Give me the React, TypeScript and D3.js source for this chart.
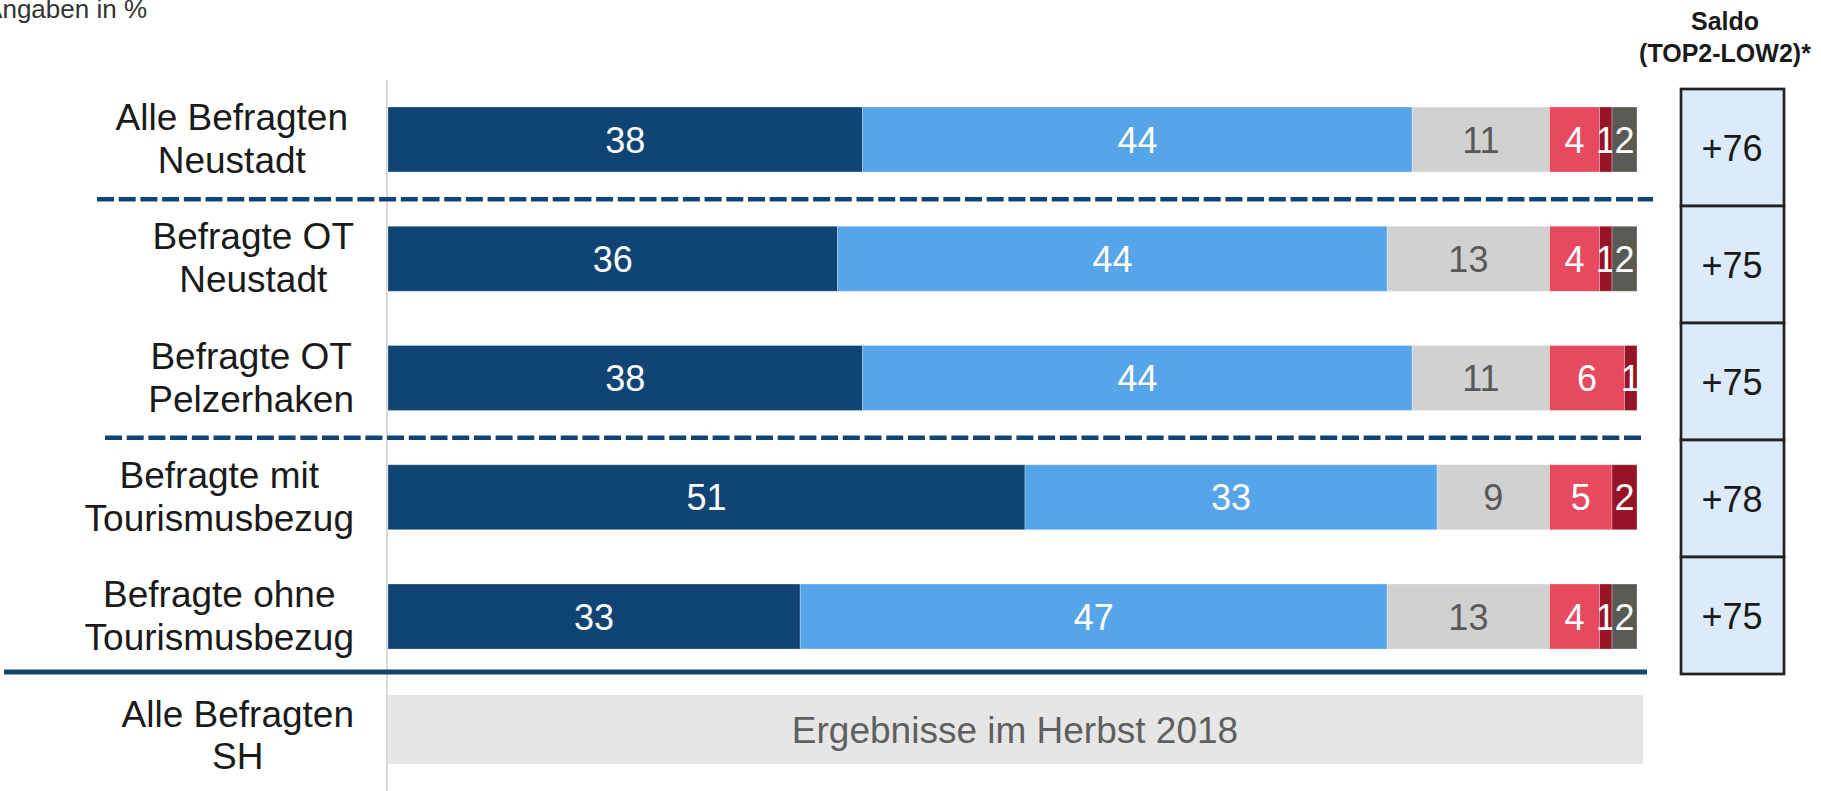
import React, { useMemo } from "react";
import * as d3 from "d3";

const categories = [
  "Alle Befragten|Neustadt",
  "Befragte OT|Neustadt",
  "Befragte OT|Pelzerhaken",
  "Befragte mit|Tourismusbezug",
  "Befragte ohne|Tourismusbezug",
];
const seriesNames = ["sehr gut", "gut", "teils/teils", "weniger gut", "gar nicht gut", "weiß nicht"];
const seriesColors = ["#104475", "#57a5e9", "#d1d1d1", "#e64a5e", "#951526", "#5a5a55"];
const seriesTextColors = ["#ffffff", "#ffffff", "#595959", "#ffffff", "#ffffff", "#ffffff"];
const values: number[][] = [
  [38, 44, 11, 4, 1, 2],
  [36, 44, 13, 4, 1, 2],
  [38, 44, 11, 6, 1, 0],
  [51, 33, 9, 5, 2, 0],
  [33, 47, 13, 4, 1, 2],
];
const saldo = ["+76", "+75", "+75", "+78", "+75"];
const shLabel = "Alle Befragten|SH";
const shText = "Ergebnisse im Herbst 2018";
const dashedAfter = [0, 2];

const FONT = "'Liberation Sans', Arial, Helvetica, sans-serif";

let ctx: CanvasRenderingContext2D | null = null;
function measure(t: string, size: number) {
  if (!ctx) ctx = document.createElement("canvas").getContext("2d");
  if (!ctx) return t.length * size * 0.5;
  ctx.font = `${size}px ${FONT}`;
  return ctx.measureText(t).width;
}

function Label({ text, right, y1, y2, size }: { text: string; right: number; y1: number; y2: number; size: number }) {
  const lines = text.split("|");
  const w = Math.max(...lines.map((l) => measure(l, size)));
  const cx = right - w / 2;
  return (
    <g fill="#1a1a1a" fontSize={size} textAnchor="middle">
      <text x={cx} y={y1}>{lines[0]}</text>
      <text x={cx} y={y2}>{lines[1]}</text>
    </g>
  );
}

export default function App() {
  const W = 1821, H = 791;
  const x = d3.scaleLinear().domain([0, 100]).range([388, 1637]);
  const y = d3.scalePoint<string>().domain(categories).range([139.5, 616.5]);
  const boxY = d3.scaleBand<string>().domain(categories).range([89, 674]).padding(0);
  const barH = 65;
  const stack = useMemo(
    () =>
      values.map((row) => {
        let acc = 0;
        return row.map((v, i) => {
          const s = { x0: acc, x1: acc + v, v, i };
          acc += v;
          return s;
        });
      }),
    []
  );
  const step = y.step();
  const lastY = y(categories[categories.length - 1])!;

  return (
    <svg width={W} height={H} style={{ position: "absolute", left: 0, top: 0, fontFamily: FONT }}>
      <rect width={W} height={H} fill="#fff" />
      <text x={147} y={18} fontSize={26} fill="#333" textAnchor="end">Angaben in %</text>

      <line x1={387} x2={387} y1={80} y2={H} stroke="#d9d9d9" strokeWidth={2} />

      {categories.map((c, r) => {
        const cy = y(c)!;
        return (
          <g key={c}>
            <Label text={c} right={r === 0 ? 348 : 354} y1={cy - 9.5} y2={cy + 33.5} size={37} />
            {stack[r].map((s) =>
              s.v > 0 ? (
                <g key={s.i}>
                  <rect
                    x={x(s.x0)}
                    y={cy - barH / 2}
                    width={x(s.x1) - x(s.x0)}
                    height={barH}
                    fill={seriesColors[s.i]}
                    stroke="#ffffff"
                    strokeOpacity={0.35}
                    strokeWidth={0.8}
                  />
                  <text
                    x={(x(s.x0) + x(s.x1)) / 2}
                    y={cy + 13}
                    fontSize={36}
                    fill={seriesTextColors[s.i]}
                    textAnchor="middle"
                  >
                    {s.v}
                  </text>
                </g>
              ) : null
            )}
          </g>
        );
      })}

      {dashedAfter.map((r, k) => {
        const ly = y(categories[r])! + step / 2;
        return (
          <line
            key={r}
            x1={k === 0 ? 97 : 105}
            x2={k === 0 ? 1653 : 1643}
            y1={ly}
            y2={ly}
            stroke="#104475"
            strokeWidth={4.5}
            strokeDasharray="17 4.7"
          />
        );
      })}

      <line x1={4} x2={1647} y1={(lastY + barH / 2 + 695) / 2} y2={(lastY + barH / 2 + 695) / 2} stroke="#104475" strokeWidth={5} />

      <rect x={x(0)} y={695} width={1643 - x(0)} height={69} fill="#e6e6e6" />
      <text x={1015} y={743} fontSize={37} fill="#5f5f5f" textAnchor="middle">{shText}</text>
      <Label text={shLabel} right={354} y1={727} y2={769} size={37} />

      <g fill="#1a1a1a" fontWeight="bold" fontSize={25} textAnchor="middle">
        <text x={1725} y={30}>Saldo</text>
        <text x={1725} y={62}>(TOP2-LOW2)*</text>
      </g>
      {categories.map((c, r) => {
        const by = boxY(c)!;
        const bh = boxY.bandwidth();
        return (
          <g key={c}>
            <rect x={1681} y={by} width={103} height={bh} fill="#dcebfa" stroke="#222" strokeWidth={2.7} />
            <text x={1732} y={by + bh / 2 + 13} fontSize={36} fill="#1a1a1a" textAnchor="middle">
              {saldo[r]}
            </text>
          </g>
        );
      })}
    </svg>
  );
}
